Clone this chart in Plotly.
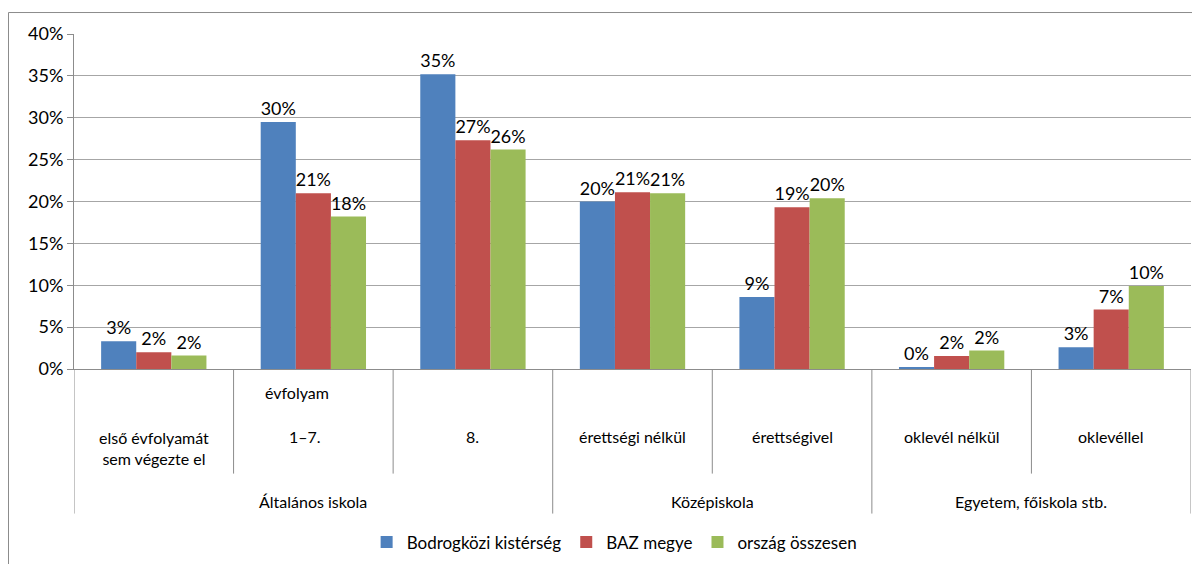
import plotly.graph_objects as go

# kategóriák (alsó szint) és csoportok (felső szint)
categories = ["első évfolyamát<br>sem végezte el", "1–7.", "8.",
              "érettségi nélkül", "érettségivel", "oklevél nélkül", "oklevéllel"]
groups = ["Általános iskola", "Középiskola", "Egyetem, főiskola stb."]
group_spans = [(0, 2), (3, 4), (5, 6)]

series_names = ["Bodrogközi kistérség", "BAZ megye", "ország összesen"]
bodrogkoz = [3.3, 29.5, 35.2, 20.0, 8.6, 0.2, 2.6]
baz = [2.0, 21.0, 27.3, 21.1, 19.3, 1.55, 7.1]
orszag = [1.6, 18.2, 26.2, 21.0, 20.4, 2.2, 9.9]
colors = ["#4F81BD", "#C0504D", "#9BBB59"]

FONT = "Lato"
x = list(range(len(categories)))

fig = go.Figure()
for name, vals, col in zip(series_names, [bodrogkoz, baz, orszag], colors):
    fig.add_trace(go.Bar(
        x=x, y=vals, name=name, marker=dict(color=col, line=dict(width=0)),
        text=vals, texttemplate="%{y:.0f}%", textposition="outside",
        textfont=dict(size=18, color="#000000", family=FONT), cliponaxis=False,
    ))

# a lap 8px body-margóval tolja el az ábrát, ezért a képernyő-pixelekből számolunk
def py(pix):
    return (369.3 - pix) / 335.3

lbl = dict(size=16, family=FONT, color="#000")
annotations = []
for i, c in enumerate(categories):
    yy = py(448) if "<br>" in c else py(437)
    annotations.append(dict(x=i, y=yy, xref="x", yref="paper", text=c, showarrow=False,
                            font=lbl, yanchor="middle", xshift=-8 if i == 1 else 0))
annotations.append(dict(x=1, y=py(393), xref="x", yref="paper", text="évfolyam", showarrow=False,
                        font=lbl, yanchor="middle", xshift=-16))
for g, (a, b) in zip(groups, group_spans):
    annotations.append(dict(x=(a + b) / 2, y=py(502), xref="x", yref="paper", text=g, showarrow=False,
                            font=lbl, yanchor="middle"))

shapes = []
group_edges = {-0.5} | {b + 0.5 for a, b in group_spans}
for k in range(len(categories) + 1):
    xe = k - 0.5
    y1 = py(514) if xe in group_edges else py(474)
    shapes.append(dict(type="line", xref="x", yref="paper", x0=xe, x1=xe, y0=0, y1=y1,
                       line=dict(color="#8C8C8C", width=1)))
# külső keret
shapes.append(dict(type="rect", xref="paper", yref="paper",
                   x0=(8.5 - 74) / 1117, x1=(1215 - 74) / 1117, y0=py(600), y1=py(12.5),
                   line=dict(color="#8C8C8C", width=1), fillcolor="rgba(0,0,0,0)", layer="below"))

fig.update_layout(
    width=1200, height=564,
    margin=dict(l=66, r=17, t=26, b=203),
    paper_bgcolor="white", plot_bgcolor="white",
    barmode="group", bargap=0.34, bargroupgap=0,
    font=dict(family=FONT, size=16, color="#000"),
    showlegend=True,
    legend=dict(orientation="h", x=0.484, xanchor="center", y=py(543), yanchor="middle",
                font=dict(size=17, family=FONT), traceorder="normal", tracegroupgap=0,
                itemwidth=30, bgcolor="rgba(0,0,0,0)"),
    xaxis=dict(range=[-0.5, 6.5], showticklabels=False, showgrid=False, zeroline=False,
               showline=True, linecolor="#8C8C8C", linewidth=1, ticks=""),
    yaxis=dict(range=[0, 40], dtick=5, ticksuffix="%", showgrid=True, gridcolor="#A6A6A6",
               gridwidth=1, zeroline=False, showline=True, linecolor="#8C8C8C", linewidth=1,
               ticks="outside", ticklen=6, tickcolor="#8C8C8C",
               tickfont=dict(size=18, family=FONT, color="#000")),
    annotations=annotations, shapes=shapes,
)

fig.write_html("out.html")
